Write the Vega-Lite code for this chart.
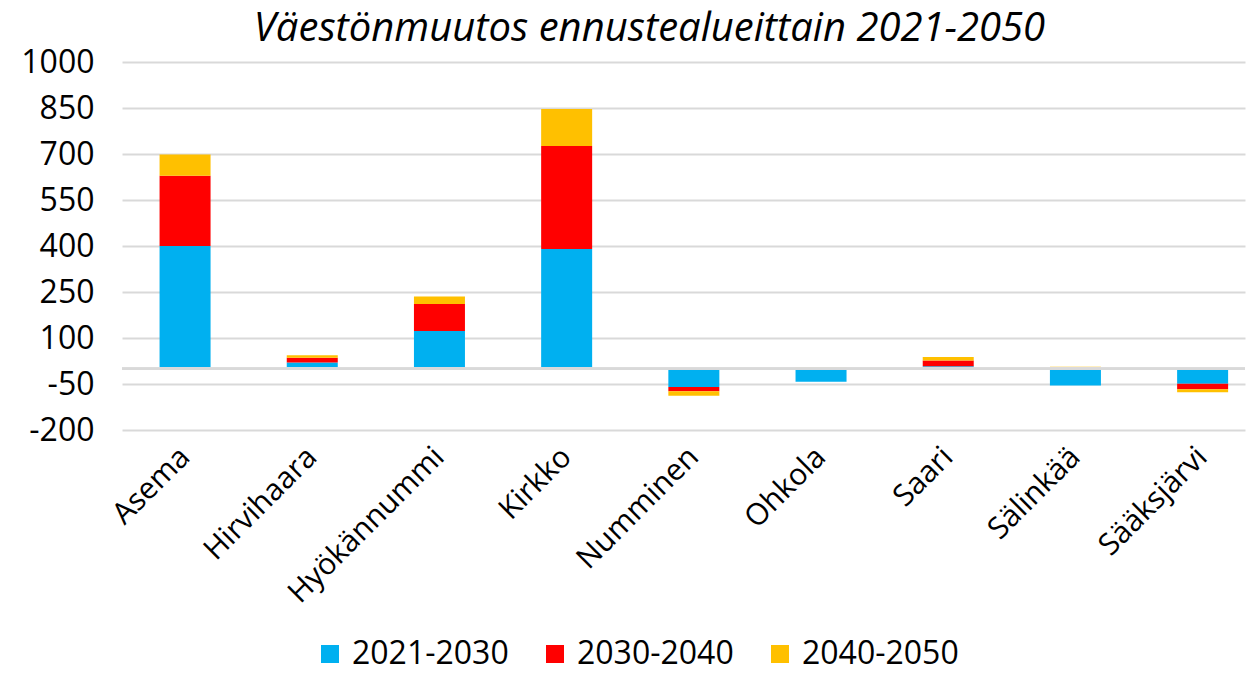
{
  "$schema": "https://vega.github.io/schema/vega-lite/v6.json",
  "autosize": "none",
  "width": 1123,
  "height": 368,
  "padding": {"left": 122, "top": 62, "right": 14, "bottom": 243},
  "background": "white",
  "title": {
    "text": "Väestönmuutos ennustealueittain 2021-2050",
    "font": "Open Sans",
    "fontStyle": "italic",
    "fontWeight": "normal",
    "fontSize": 40,
    "color": "#000000",
    "anchor": "middle",
    "frame": "group",
    "offset": -3,
    "dx": -34
  },
  "config": {"view": {"stroke": null}},
  "data": {
    "values": [
      {"alue": "Asema", "jakso": "2021-2030", "k": 1, "muutos": 400},
      {"alue": "Asema", "jakso": "2030-2040", "k": 2, "muutos": 229},
      {"alue": "Asema", "jakso": "2040-2050", "k": 3, "muutos": 69},
      {"alue": "Hirvihaara", "jakso": "2021-2030", "k": 1, "muutos": 20},
      {"alue": "Hirvihaara", "jakso": "2030-2040", "k": 2, "muutos": 16},
      {"alue": "Hirvihaara", "jakso": "2040-2050", "k": 3, "muutos": 8},
      {"alue": "Hyökännummi", "jakso": "2021-2030", "k": 1, "muutos": 123},
      {"alue": "Hyökännummi", "jakso": "2030-2040", "k": 2, "muutos": 88},
      {"alue": "Hyökännummi", "jakso": "2040-2050", "k": 3, "muutos": 24},
      {"alue": "Kirkko", "jakso": "2021-2030", "k": 1, "muutos": 390},
      {"alue": "Kirkko", "jakso": "2030-2040", "k": 2, "muutos": 336},
      {"alue": "Kirkko", "jakso": "2040-2050", "k": 3, "muutos": 121},
      {"alue": "Numminen", "jakso": "2021-2030", "k": 1, "muutos": -60},
      {"alue": "Numminen", "jakso": "2030-2040", "k": 2, "muutos": -14},
      {"alue": "Numminen", "jakso": "2040-2050", "k": 3, "muutos": -14},
      {"alue": "Ohkola", "jakso": "2021-2030", "k": 1, "muutos": -43},
      {"alue": "Ohkola", "jakso": "2030-2040", "k": 2, "muutos": 1},
      {"alue": "Ohkola", "jakso": "2040-2050", "k": 3, "muutos": 3},
      {"alue": "Saari", "jakso": "2021-2030", "k": 1, "muutos": 8},
      {"alue": "Saari", "jakso": "2030-2040", "k": 2, "muutos": 19},
      {"alue": "Saari", "jakso": "2040-2050", "k": 3, "muutos": 11},
      {"alue": "Sälinkää", "jakso": "2021-2030", "k": 1, "muutos": -55},
      {"alue": "Sälinkää", "jakso": "2030-2040", "k": 2, "muutos": 3},
      {"alue": "Sälinkää", "jakso": "2040-2050", "k": 3, "muutos": 3},
      {"alue": "Sääksjärvi", "jakso": "2021-2030", "k": 1, "muutos": -49},
      {"alue": "Sääksjärvi", "jakso": "2030-2040", "k": 2, "muutos": -18},
      {"alue": "Sääksjärvi", "jakso": "2040-2050", "k": 3, "muutos": -10}
    ]
  },
  "layer": [
    {
      "mark": {"type": "bar"},
      "encoding": {
        "x": {
          "field": "alue",
          "type": "nominal",
          "sort": null,
          "scale": {"paddingInner": 0.599, "paddingOuter": 0.214, "align": 0.69},
          "axis": {
            "title": null,
            "labelAngle": -45,
            "labelAlign": "right",
            "labelBaseline": "middle",
            "labelFont": "Open Sans",
            "labelFontSize": 30,
            "labelColor": "#000000",
            "labelPadding": 22,
            "labelLimit": 400,
            "ticks": false,
            "domain": false,
            "grid": false
          }
        },
        "y": {
          "field": "muutos",
          "type": "quantitative",
          "stack": "zero",
          "scale": {"domain": [-200, 1000], "nice": false, "zero": false},
          "axis": {
            "title": null,
            "values": [-200, -50, 100, 250, 400, 550, 700, 850, 1000],
            "labelExpr": "'' + datum.value",
            "labelFont": "Open Sans",
            "labelFontSize": 32,
            "labelColor": "#000000",
            "labelPadding": 28,
            "labelBaseline": "middle",
            "ticks": false,
            "domain": false,
            "grid": true,
            "gridColor": "#d9d9d9",
            "gridWidth": 2
          }
        },
        "color": {
          "field": "jakso",
          "type": "nominal",
          "scale": {
            "domain": ["2021-2030", "2030-2040", "2040-2050"],
            "range": ["#00B0F0", "#FF0000", "#FFC000"]
          },
          "legend": {
            "title": null,
            "orient": "none",
            "direction": "horizontal",
            "legendX": 192,
            "legendY": 576,
            "symbolType": "square",
            "symbolSize": 324,
            "symbolStrokeWidth": 0,
            "labelFont": "Open Sans",
            "labelFontSize": 32,
            "labelColor": "#000000",
            "labelOffset": 6,
            "labelLimit": 300,
            "columnPadding": 30,
            "symbolOpacity": 1
          }
        },
        "order": {"field": "k", "type": "quantitative"}
      }
    },
    {
      "mark": {"type": "rule", "color": "#d9d9d9", "strokeWidth": 2},
      "encoding": {"y": {"datum": 0}}
    }
  ]
}
